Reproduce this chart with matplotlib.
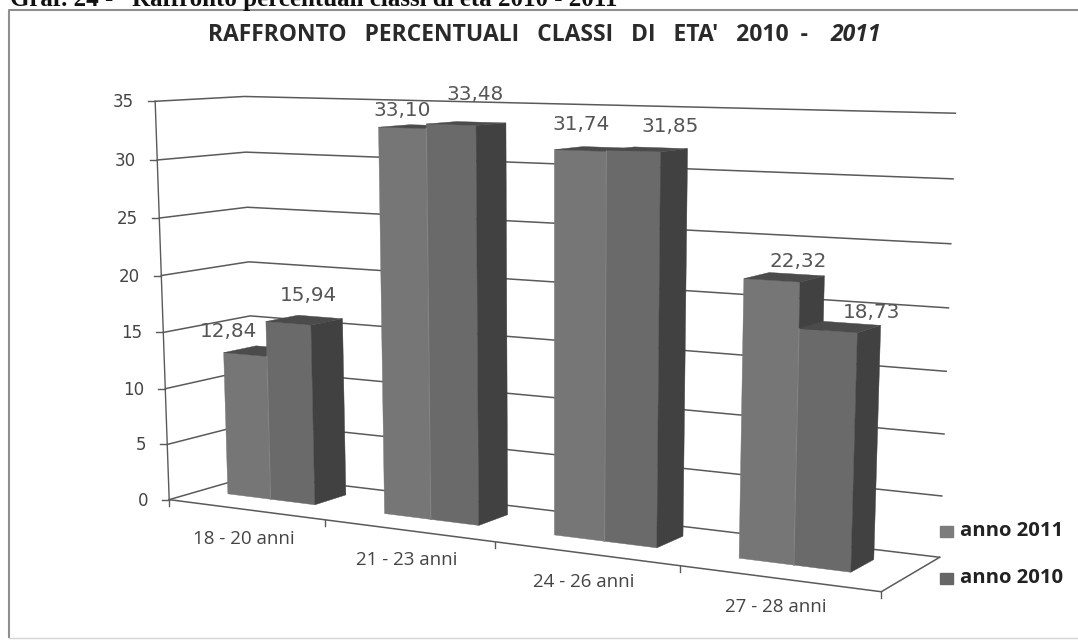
import numpy as np
import matplotlib
matplotlib.use("Agg")
import matplotlib.pyplot as plt
from matplotlib.patches import Polygon

categories = ["18 - 20 anni", "21 - 23 anni", "24 - 26 anni", "27 - 28 anni"]
values_2011 = [12.84, 33.10, 31.74, 22.32]
values_2010 = [15.94, 33.48, 31.85, 18.73]
labels_2011 = ["12,84", "33,10", "31,74", "22,32"]
labels_2010 = ["15,94", "33,48", "31,85", "18,73"]
series_names = ["anno 2011", "anno 2010"]
y_ticks = [0, 5, 10, 15, 20, 25, 30, 35]

# --- projective scale: (category u, depth w, value v) -> pixels, calibrated on the chart box
ANCHORS = [
    ((0, 0, 0), (169, 498)), ((4, 0, 0), (881, 590)),
    ((0, 1, 0), (255, 475)), ((4, 1, 0), (940, 557)),
    ((0, 0, 35), (155, 101)), ((0, 1, 35), (245, 97)),
    ((4, 1, 35), (955.5, 113)), ((0, 1, 15), (249, 316)),
    ((4, 1, 15), (946, 371)), ((1, 0, 0), (326, 520)),
    ((2, 0, 0), (495.5, 543)), ((3, 0, 0), (679, 568)),
]
A = []
for (X, Y, Z), (px, py) in ANCHORS:
    A.append([X, Y, Z, 1, 0, 0, 0, 0, -px * X, -px * Y, -px * Z, -px])
    A.append([0, 0, 0, 0, X, Y, Z, 1, -py * X, -py * Y, -py * Z, -py])
P = np.linalg.svd(np.array(A, float))[2][-1].reshape(3, 4)


def proj(u, w, v):
    q = P @ np.array([u, w, v, 1.0])
    return q[0] / q[2], q[1] / q[2]


fig = plt.figure(figsize=(10.78, 6.40), dpi=100, facecolor="white")
ax = fig.add_axes([0, 0, 1, 1])
ax.set_xlim(0, 1078)
ax.set_ylim(640, 0)
ax.axis("off")

# page heading and outer frame
ax.text(10, 6, "Graf. 24 -   Raffronto percentuali classi di età 2010 - 2011",
        family="Liberation Serif", weight="bold", fontsize=18, color="#111111", va="baseline", ha="left")
ax.plot([9, 9, 1078], [637, 10, 10], color="#8f8f8f", lw=1.5, zorder=1)
ax.plot([9, 1078], [637.5, 637.5], color="#d5d5d5", lw=1, zorder=1)

# title
ax.text(208, 35, "RAFFRONTO   PERCENTUALI   CLASSI   DI   ETA'   2010  -", family="Open Sans", weight="bold",
        fontsize=16.5, color="#2a2a2a", va="center", ha="left")
ax.text(831, 35, "2011", family="Open Sans", weight="bold", style="italic",
        fontsize=16.5, color="#2a2a2a", va="center", ha="left")

# walls
GRID = "#5a5a5a"
for t in y_ticks:
    pts = [proj(0, 0, t), proj(0, 1, t), proj(4, 1, t)]
    ax.plot(*zip(*pts), color=GRID, lw=1.1, zorder=2)
    tick = proj(0, 0, t)
    ax.plot([tick[0] - 7, tick[0]], [tick[1], tick[1]], color=GRID, lw=1.0, zorder=2)
    ax.text(tick[0] - 21, tick[1] + 1, str(t), family="DejaVu Sans", fontsize=12, color="#444444",
            va="center", ha="right")
ax.plot(*zip(proj(0, 0, 0), proj(0, 0, 35)), color=GRID, lw=1.0, zorder=2)
ax.plot(*zip(proj(0, 0, 0), proj(4, 0, 0), proj(4, 1, 0)), color=GRID, lw=1.1, zorder=2)
for i in range(len(categories) + 1):
    b = proj(i, 0, 0)
    ax.plot([b[0], b[0]], [b[1], b[1] + 6], color=GRID, lw=1.0, zorder=2)

# bars
W0, W1 = 0.36, 0.74
EDGES = [0.18, 0.46, 0.745]
FRONT = ["#767676", "#6a6a6a"]
SIDE = "#414141"
TOP = "#4b4b4b"
STRIPE = "#858585"


def bar(u0, u1, v, face, z):
    ax.add_patch(Polygon([proj(u0, W0, 0), proj(u1, W0, 0), proj(u1, W0, v), proj(u0, W0, v)],
                         facecolor=face, edgecolor=face, lw=0.3, zorder=z))
    ax.add_patch(Polygon([proj(u1, W0, 0), proj(u1, W1, 0), proj(u1, W1, v), proj(u1, W0, v)],
                         facecolor=SIDE, edgecolor=SIDE, lw=0.3, zorder=z))
    ax.add_patch(Polygon([proj(u0, W0, v), proj(u1, W0, v), proj(u1, W1, v), proj(u0, W1, v)],
                         facecolor=TOP, edgecolor=TOP, lw=0.3, zorder=z))


LABEL_SHIFT_2011 = [(-17, -23), (0, -17), (1, -26), (26, -19)]
LABEL_SHIFT_2010 = [(20, -28), (24, -30), (37, -24), (44, -18)]
for i, (a, b) in enumerate(zip(values_2011, values_2010)):
    bar(i + EDGES[0], i + EDGES[1], a, FRONT[0], 5 + i * 2)
    bar(i + EDGES[1], i + EDGES[2], b, FRONT[1], 6 + i * 2)
    ax.plot(*zip(proj(i + EDGES[1], W0, 0), proj(i + EDGES[1], W0, min(a, b))),
            color=STRIPE, lw=0.8, zorder=6 + i * 2)
for i in range(len(categories)):
    for vals, labs, sh, e0, e1 in [(values_2011, labels_2011, LABEL_SHIFT_2011, EDGES[0], EDGES[1]),
                                   (values_2010, labels_2010, LABEL_SHIFT_2010, EDGES[1], EDGES[2])]:
        x, y = proj(i + (e0 + e1) / 2, W0, vals[i])
        ax.text(x + sh[i][0], y + sh[i][1], labs[i], family="DejaVu Sans", fontsize=14.4, color="#555555",
                va="center", ha="center", zorder=30)

# category labels
CAT_SHIFT = (-2, 29)
for i, c in enumerate(categories):
    x, y = proj(i + 0.5, 0, 0)
    ax.text(x + CAT_SHIFT[0], y + CAT_SHIFT[1], c, family="Open Sans", fontsize=13.5, color="#444444",
            va="center", ha="center", zorder=30)

# legend
LEG = [("#7c7c7c", 531), ("#666666", 578)]
for name, (col, ly) in zip(series_names, LEG):
    ax.add_patch(Polygon([(940, ly - 5.5), (953, ly - 5.5), (953, ly + 5.5), (940, ly + 5.5)], facecolor=col, edgecolor=col, zorder=30))
    ax.text(960, ly, name, family="Open Sans", weight="bold", fontsize=14.6, color="#222222",
            va="center", ha="left", zorder=30)

fig.savefig("out.png", dpi=100)
